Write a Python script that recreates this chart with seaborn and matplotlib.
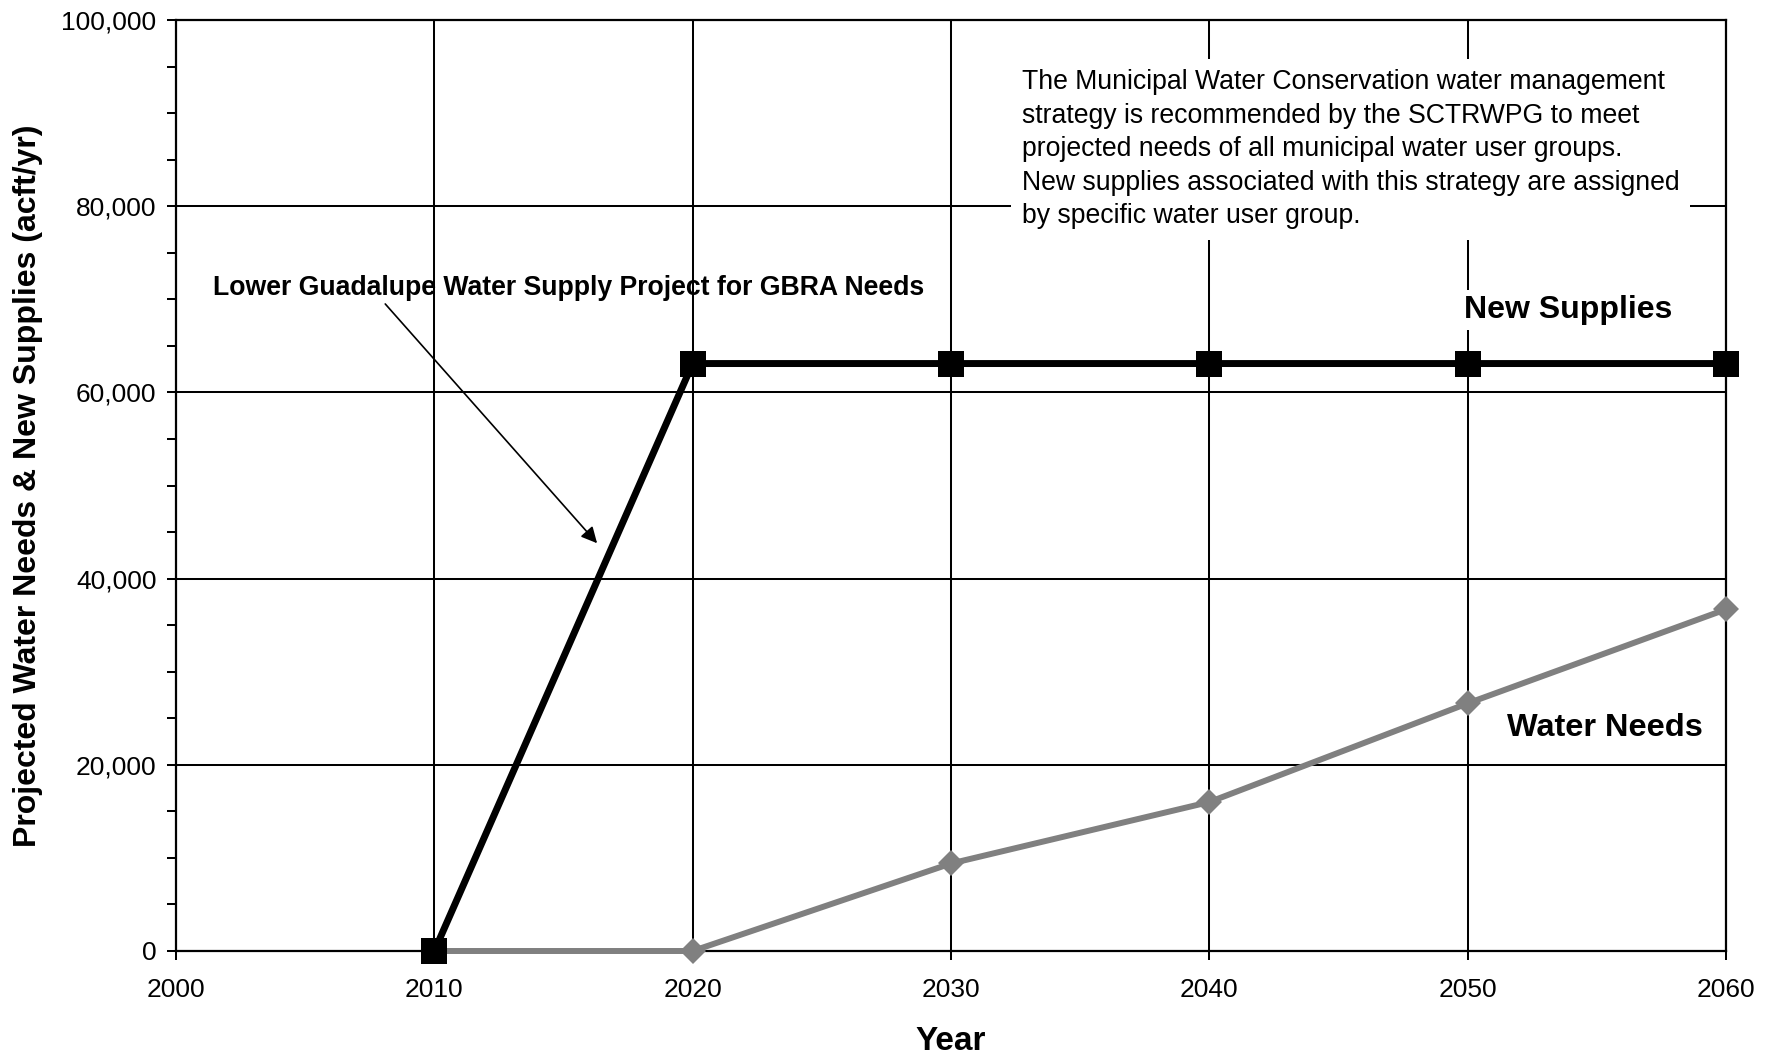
import matplotlib
matplotlib.use("Agg")
import matplotlib.pyplot as plt
import seaborn as sns
import pandas as pd
from matplotlib.ticker import MultipleLocator, FuncFormatter

# ---- data ----
years = [2010, 2020, 2030, 2040, 2050, 2060]
new_supplies = [0, 63100, 63100, 63100, 63100, 63100]
water_needs = [0, 0, 9400, 16000, 26600, 36700]
x_ticks = [2000, 2010, 2020, 2030, 2040, 2050, 2060]
y_ticks = [0, 20000, 40000, 60000, 80000, 100000]

note_text = ("The Municipal Water Conservation water management\n"
             "strategy is recommended by the SCTRWPG to meet\n"
             "projected needs of all municipal water user groups.\n"
             "New supplies associated with this strategy are assigned\n"
             "by specific water user group.")
annot_text = "Lower Guadalupe Water Supply Project for GBRA Needs"

df_sup = pd.DataFrame({"Year": years, "Value": new_supplies})
df_need = pd.DataFrame({"Year": years, "Value": water_needs})

sns.set_style("white")
plt.rcParams["font.family"] = ["Liberation Sans", "DejaVu Sans"]
plt.rcParams["text.color"] = "black"
plt.rcParams["axes.labelcolor"] = "black"
plt.rcParams["xtick.color"] = "black"
plt.rcParams["ytick.color"] = "black"

W, H = 1778, 1057
fig = plt.figure(figsize=(W / 100, H / 100), dpi=100)
L, R, T, B = 176, 1726, 20, 951
ax = fig.add_axes([L / W, 1 - B / H, (R - L) / W, (B - T) / H])

sns.lineplot(data=df_need, x="Year", y="Value", ax=ax, color="#808080",
             lw=4.3, marker="D", markersize=13.5, markeredgewidth=0,
             legend=False, clip_on=False, zorder=3)
sns.lineplot(data=df_sup, x="Year", y="Value", ax=ax, color="black",
             lw=5, marker="s", markersize=18.7, markeredgewidth=0,
             legend=False, clip_on=False, zorder=4)

ax.set_xlim(2000, 2060)
ax.set_ylim(0, 100000)
ax.set_xticks(x_ticks)
ax.set_yticks(y_ticks)
ax.yaxis.set_minor_locator(MultipleLocator(5000))
ax.yaxis.set_major_formatter(FuncFormatter(lambda v, p: f"{v:,.0f}"))

ax.grid(True, which="major", color="black", lw=1.45)
ax.set_axisbelow(True)
for s in ax.spines.values():
    s.set_color("black")
    s.set_linewidth(1.6)

ax.tick_params(axis="both", which="both", direction="out", length=6.5,
               width=1.45, color="black", labelsize=19, labelcolor="black")
ax.tick_params(axis="x", pad=13)
ax.tick_params(axis="y", pad=7.5)
ax.tick_params(axis="y", which="minor", left=True)
ax.tick_params(axis="x", bottom=True)
ax.tick_params(axis="y", left=True)

ax.set_xlabel("Year", fontsize=24, fontweight="bold")
ax.set_ylabel("Projected Water Needs & New Supplies (acft/yr)", fontsize=23,
              fontweight="bold")
ax.xaxis.set_label_coords(0.5, -0.081)
ax.yaxis.set_label_coords(-0.086, 0.5)

ax.text(2032.75, 94700, note_text, ha="left", va="top", fontsize=19.2,
        linespacing=1.37, zorder=5,
        bbox=dict(boxstyle="square,pad=0.4", facecolor="white", edgecolor="none"))

ax.text(2053.9, 68850, "New Supplies", ha="center", va="center", fontsize=23,
        fontweight="bold", zorder=5,
        bbox=dict(boxstyle="square,pad=0.15", facecolor="white", edgecolor="none"))
ax.text(2055.3, 23950, "Water Needs", ha="center", va="center", fontsize=23.4,
        fontweight="bold", zorder=5)

ax.text(2015.2, 71200, annot_text, ha="center", va="center", fontsize=19.2,
        fontweight="bold", zorder=5)
ax.annotate("", xy=(2016.3, 43800), xytext=(2008.1, 69500),
            arrowprops=dict(arrowstyle="-|>", color="black", lw=1.2,
                            mutation_scale=24, shrinkA=0, shrinkB=0),
            zorder=5)

fig.savefig("out.png", dpi=100)
